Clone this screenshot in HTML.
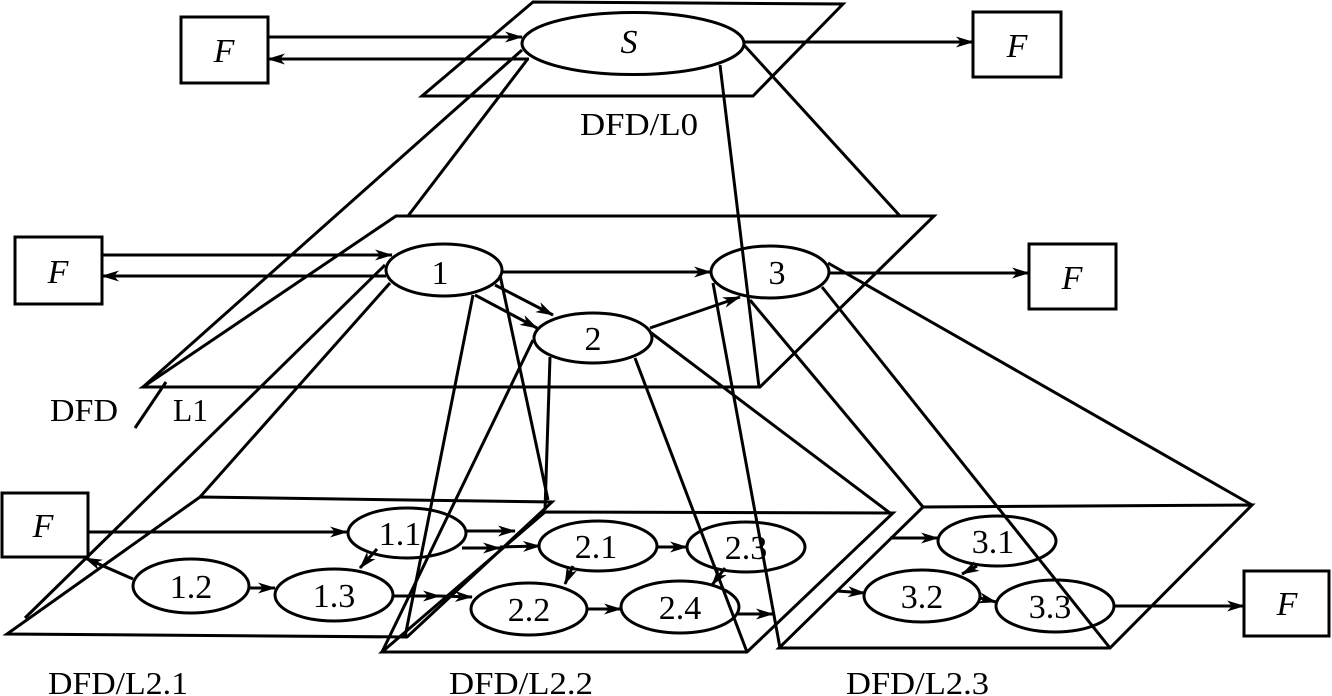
<!DOCTYPE html>
<html><head><meta charset="utf-8"><style>
html,body{margin:0;padding:0;background:#fff;}
svg{display:block;}
text{font-family:"Liberation Serif",serif;fill:#000;}
</style></head><body>
<svg width="1332" height="696" viewBox="0 0 1332 696" xmlns="http://www.w3.org/2000/svg">
<defs>
<marker id="a" markerUnits="userSpaceOnUse" markerWidth="20" markerHeight="12" refX="17" refY="6" orient="auto">
<path d="M0,0.5 L18,6 L0,11.5 L5,6 z" fill="#000"/>
</marker>
</defs>
<g fill="none" stroke="#000" stroke-width="3" stroke-linejoin="miter">
<polygon points="533,2 843,4 753,96 422,96"/>
<polygon points="396,216 934,216 760,387 143,387"/>
<polygon points="200,497 552,502 407,637 7,634"/>
<polygon points="545,512 893,513 747,652 382,652"/>
<polygon points="923,507 1252,505 1110,648 779,648"/>
<line x1="522" y1="50" x2="143" y2="387"/>
<line x1="527" y1="60" x2="408" y2="216"/>
<line x1="744" y1="45" x2="900" y2="216"/>
<line x1="720" y1="65" x2="759" y2="387"/>
<line x1="135" y1="428" x2="166" y2="382"/>
<line x1="385" y1="265" x2="25" y2="618"/>
<line x1="390" y1="283" x2="200" y2="497"/>
<line x1="473" y1="295" x2="405" y2="637"/>
<line x1="500" y1="275" x2="548" y2="500"/>
<line x1="533" y1="340" x2="382" y2="652"/>
<line x1="550" y1="357" x2="545" y2="510"/>
<line x1="635" y1="358" x2="747" y2="652"/>
<line x1="650" y1="332" x2="890" y2="513"/>
<line x1="713" y1="283" x2="780" y2="648"/>
<line x1="750" y1="300" x2="923" y2="507"/>
<line x1="822" y1="287" x2="1110" y2="648"/>
<line x1="828" y1="263" x2="1252" y2="505"/>
<rect x="181" y="17" width="87" height="66"/>
<rect x="973" y="12" width="88" height="65"/>
<rect x="15" y="237" width="87" height="67"/>
<rect x="1029" y="244" width="87" height="65"/>
<rect x="2" y="493" width="86" height="64"/>
<rect x="1244" y="571" width="85" height="65"/>
<ellipse cx="633" cy="43.5" rx="111" ry="31"/>
<ellipse cx="444" cy="270" rx="58" ry="26"/>
<ellipse cx="593" cy="338" rx="59" ry="25"/>
<ellipse cx="770" cy="272" rx="59" ry="26"/>
<ellipse cx="407" cy="533" rx="59" ry="25"/>
<ellipse cx="191" cy="586" rx="58" ry="27"/>
<ellipse cx="334" cy="595" rx="59" ry="26"/>
<ellipse cx="598" cy="546" rx="59" ry="25"/>
<ellipse cx="529" cy="609" rx="58" ry="26"/>
<ellipse cx="746" cy="547" rx="59" ry="25"/>
<ellipse cx="680" cy="607" rx="59" ry="26"/>
<ellipse cx="997" cy="541" rx="59" ry="25"/>
<ellipse cx="922" cy="596" rx="58" ry="26"/>
<ellipse cx="1055" cy="606" rx="59" ry="26"/>
</g>
<g fill="none" stroke="#000" stroke-width="3" marker-end="url(#a)">
<line x1="268" y1="37" x2="522" y2="37"/>
<line x1="529" y1="59" x2="268" y2="59"/>
<line x1="744" y1="42" x2="973" y2="42"/>
<line x1="102" y1="255" x2="392" y2="255"/>
<line x1="386" y1="276" x2="102" y2="276"/>
<line x1="503" y1="272" x2="711" y2="272"/>
<line x1="495" y1="285" x2="553" y2="315"/>
<line x1="475" y1="295" x2="537" y2="328"/>
<line x1="650" y1="328" x2="740" y2="297"/>
<line x1="828" y1="273" x2="1029" y2="273"/>
<line x1="88" y1="532" x2="347" y2="532"/>
<line x1="133" y1="579" x2="85" y2="558"/>
<line x1="249" y1="588" x2="275" y2="588"/>
<line x1="377" y1="549" x2="360" y2="568"/>
<line x1="393" y1="596" x2="440" y2="596"/>
<line x1="440" y1="596" x2="472" y2="597"/>
<line x1="467" y1="531" x2="515" y2="531"/>
<line x1="462" y1="548" x2="500" y2="548"/>
<line x1="500" y1="547" x2="540" y2="546"/>
<line x1="658" y1="547" x2="687" y2="547"/>
<line x1="573" y1="566" x2="565" y2="584"/>
<line x1="725" y1="568" x2="712" y2="585"/>
<line x1="587" y1="609" x2="621" y2="609"/>
<line x1="738" y1="614" x2="773" y2="614"/>
<line x1="837" y1="591" x2="865" y2="593"/>
<line x1="890" y1="538" x2="938" y2="538"/>
<line x1="977" y1="566" x2="962" y2="574"/>
<line x1="980" y1="598" x2="996" y2="602"/>
<line x1="1114" y1="606" x2="1244" y2="606"/>
</g>
<g font-size="34" text-anchor="middle">
<text x="224" y="62" font-style="italic">F</text>
<text x="1017" y="57" font-style="italic">F</text>
<text x="58" y="283" font-style="italic">F</text>
<text x="1072" y="289" font-style="italic">F</text>
<text x="43" y="537" font-style="italic">F</text>
<text x="1287" y="615" font-style="italic">F</text>
<text x="629" y="53" font-style="italic">S</text>
<text x="440" y="284">1</text>
<text x="593" y="350">2</text>
<text x="777" y="284">3</text>
<text x="400" y="545">1.1</text>
<text x="191" y="598">1.2</text>
<text x="334" y="607">1.3</text>
<text x="596" y="558">2.1</text>
<text x="529" y="621">2.2</text>
<text x="746" y="559">2.3</text>
<text x="680" y="619">2.4</text>
<text x="993" y="553">3.1</text>
<text x="922" y="608">3.2</text>
<text x="1050" y="618">3.3</text>
</g>
<g font-size="32">
<text x="580" y="135" textLength="118" lengthAdjust="spacingAndGlyphs">DFD/L0</text>
<text x="50" y="421" textLength="68" lengthAdjust="spacingAndGlyphs">DFD</text>
<text x="173" y="421" textLength="35" lengthAdjust="spacingAndGlyphs">L1</text>
<text x="48" y="694" textLength="140" lengthAdjust="spacingAndGlyphs">DFD/L2.1</text>
<text x="449" y="694" textLength="144" lengthAdjust="spacingAndGlyphs">DFD/L2.2</text>
<text x="846" y="694" textLength="143" lengthAdjust="spacingAndGlyphs">DFD/L2.3</text>
</g>
</svg>
</body></html>
